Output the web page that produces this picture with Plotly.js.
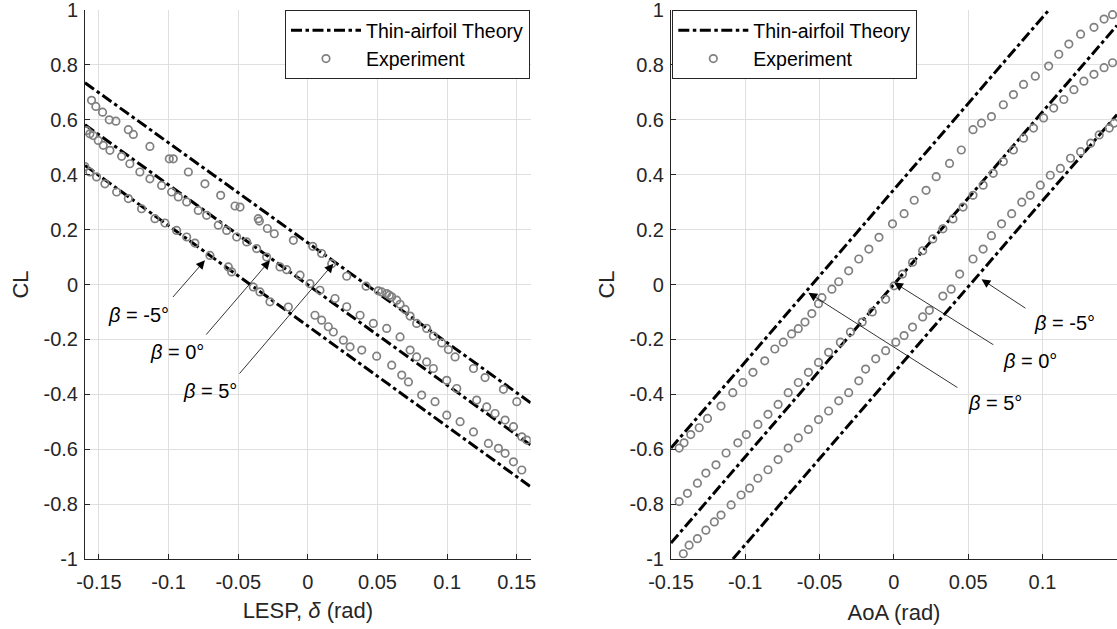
<!DOCTYPE html>
<html>
<head>
<meta charset="utf-8">
<script src="https://cdn.plot.ly/plotly-3.0.1.min.js"></script>
<style>
html,body{margin:0;padding:0;background:#fff;}
#chart{width:1117px;height:629px;}
</style>
</head>
<body>
<div id="chart"></div>
<script>
// ---------- LEFT PANEL: CL vs LESP ----------
// Thin-airfoil theory lines (endpoints)
const theoryLESP_x = [-0.16, 0.16];
const theoryLESP_beta5_y = [0.735, -0.431];
const theoryLESP_beta0_y = [0.582, -0.585];
const theoryLESP_betam5_y = [0.434, -0.737];

const lespA_x = [-0.1553,-0.1522,-0.1474,-0.1426,-0.1378,-0.1289,-0.1253,-0.1134,-0.0995,-0.0966,-0.0858,-0.0739,-0.0626,-0.0523,-0.0487,-0.0356,-0.0348,-0.0291,-0.0241,-0.0104,0.0035,0.0099,0.0171,0.0279,0.0418,0.0506,0.0530,0.0566,0.0585,0.0602,0.0638,0.0662,0.0698,0.0734,0.0781,0.0853,0.0901,0.0961,0.1009,0.1057,0.1189,0.1272,0.1404,0.1500];
const lespA_y = [0.671,0.649,0.628,0.600,0.595,0.564,0.547,0.503,0.458,0.458,0.410,0.367,0.325,0.286,0.282,0.240,0.231,0.204,0.185,0.161,0.139,0.113,0.076,0.030,-0.006,-0.023,-0.027,-0.033,-0.039,-0.045,-0.057,-0.072,-0.091,-0.115,-0.142,-0.160,-0.188,-0.213,-0.237,-0.264,-0.306,-0.339,-0.382,-0.427];

const lespB_x = [-0.1589,-0.1565,-0.1541,-0.1505,-0.1469,-0.1421,-0.1337,-0.1278,-0.1206,-0.1134,-0.1050,-0.0978,-0.0930,-0.0870,-0.0787,-0.0727,-0.0643,-0.0583,-0.0511,-0.0439,-0.0368,-0.0296,-0.0200,-0.0152,-0.0056,0.0015,0.0087,0.0195,0.0279,0.0375,0.0470,0.0566,0.0662,0.0734,0.0781,0.0853,0.0901,0.0997,0.1069,0.1212,0.1284,0.1344,0.1416,0.1476,0.1536,0.1572];
const lespB_y = [0.561,0.549,0.543,0.525,0.507,0.489,0.467,0.440,0.410,0.385,0.361,0.337,0.319,0.301,0.270,0.252,0.216,0.197,0.173,0.155,0.131,0.100,0.064,0.054,0.034,0.003,-0.021,-0.051,-0.081,-0.112,-0.142,-0.160,-0.191,-0.239,-0.264,-0.282,-0.306,-0.349,-0.379,-0.421,-0.446,-0.470,-0.494,-0.518,-0.555,-0.567];

const lespC_x = [-0.1601,-0.1565,-0.1517,-0.1457,-0.1373,-0.1289,-0.1194,-0.1098,-0.1026,-0.0942,-0.0870,-0.0811,-0.0703,-0.0571,-0.0547,-0.0392,-0.0344,-0.0272,-0.0140,0.0051,0.0099,0.0147,0.0183,0.0255,0.0303,0.0387,0.0494,0.0602,0.0674,0.0722,0.0817,0.0913,0.0997,0.1093,0.1189,0.1296,0.1368,0.1416,0.1476,0.1536];
const lespC_y = [0.430,0.410,0.392,0.367,0.337,0.313,0.276,0.240,0.224,0.197,0.173,0.151,0.106,0.064,0.046,-0.009,-0.027,-0.063,-0.082,-0.112,-0.130,-0.154,-0.173,-0.203,-0.227,-0.239,-0.261,-0.294,-0.330,-0.355,-0.403,-0.427,-0.476,-0.500,-0.537,-0.579,-0.597,-0.615,-0.646,-0.676];

// ---------- RIGHT PANEL: CL vs AoA ----------
const theoryAoA_beta5_x = [-0.15, 0.1043];
const theoryAoA_beta5_y = [-0.596, 1.0];
const theoryAoA_beta0_x = [-0.15, 0.1502];
const theoryAoA_beta0_y = [-0.942, 0.944];
const theoryAoA_betam5_x = [-0.1083, 0.1502];
const theoryAoA_betam5_y = [-1.0, 0.619];

const aoa5_x = [-0.1445,-0.1412,-0.1367,-0.1310,-0.1254,-0.1163,-0.1084,-0.1016,-0.0948,-0.0869,-0.0801,-0.0744,-0.0688,-0.0643,-0.0598,-0.0552,-0.0507,-0.0484,-0.0417,-0.0371,-0.0304,-0.0236,-0.0168,-0.0100,-0.0009,0.0069,0.0137,0.0217,0.0285,0.0375,0.0454,0.0533,0.0590,0.0657,0.0737,0.0805,0.0873,0.0952,0.1042,0.1110,0.1178,0.1257,0.1347,0.1415,0.1472];
const aoa5_y = [-0.596,-0.577,-0.547,-0.522,-0.488,-0.443,-0.394,-0.357,-0.320,-0.278,-0.235,-0.210,-0.180,-0.161,-0.137,-0.106,-0.070,-0.048,-0.017,0.010,0.050,0.093,0.129,0.172,0.221,0.258,0.307,0.343,0.393,0.441,0.490,0.564,0.588,0.612,0.655,0.692,0.729,0.759,0.796,0.839,0.876,0.912,0.937,0.967,0.983];

const aoa0_x = [-0.1445,-0.1389,-0.1322,-0.1265,-0.1197,-0.1129,-0.1050,-0.0993,-0.0915,-0.0847,-0.0779,-0.0711,-0.0643,-0.0575,-0.0507,-0.0439,-0.0360,-0.0292,-0.0213,-0.0145,-0.0055,0.0002,0.0058,0.0126,0.0194,0.0262,0.0330,0.0398,0.0466,0.0533,0.0601,0.0669,0.0737,0.0805,0.0873,0.0940,0.1008,0.1076,0.1144,0.1212,0.1279,0.1347,0.1415,0.1472];
const aoa0_y = [-0.791,-0.761,-0.724,-0.687,-0.657,-0.614,-0.577,-0.547,-0.510,-0.473,-0.437,-0.394,-0.357,-0.320,-0.284,-0.247,-0.210,-0.173,-0.137,-0.100,-0.054,-0.005,0.038,0.081,0.123,0.166,0.203,0.239,0.282,0.325,0.362,0.405,0.448,0.490,0.533,0.570,0.607,0.643,0.674,0.710,0.741,0.766,0.790,0.808];

const aoam5_x = [-0.1417,-0.1378,-0.1322,-0.1265,-0.1208,-0.1163,-0.1095,-0.1028,-0.0971,-0.0915,-0.0847,-0.0779,-0.0711,-0.0643,-0.0575,-0.0507,-0.0439,-0.0371,-0.0304,-0.0236,-0.0190,-0.0122,-0.0055,0.0013,0.0069,0.0126,0.0194,0.0239,0.0330,0.0386,0.0443,0.0533,0.0601,0.0657,0.0725,0.0793,0.0861,0.0918,0.0986,0.1053,0.1121,0.1189,0.1257,0.1325,0.1382,0.1450,0.1483];
const aoam5_y = [-0.981,-0.950,-0.926,-0.895,-0.865,-0.840,-0.803,-0.767,-0.742,-0.706,-0.675,-0.638,-0.596,-0.559,-0.528,-0.492,-0.461,-0.424,-0.394,-0.351,-0.308,-0.271,-0.241,-0.210,-0.186,-0.155,-0.118,-0.094,-0.042,-0.017,0.038,0.093,0.129,0.178,0.221,0.258,0.300,0.325,0.362,0.398,0.423,0.460,0.484,0.515,0.545,0.570,0.588];

// Tick values / labels
const xTicksLESP = [-0.15,-0.1,-0.05,0,0.05,0.1,0.15];
const xLabelsLESP = ['-0.15','-0.1','-0.05','0','0.05','0.1','0.15'];
const xTicksAoA = [-0.15,-0.1,-0.05,0,0.05,0.1];
const xLabelsAoA = ['-0.15','-0.1','-0.05','0','0.05','0.1'];
const yTicks = [-1,-0.8,-0.6,-0.4,-0.2,0,0.2,0.4,0.6,0.8,1];
const yLabels = ['-1','-0.8','-0.6','-0.4','-0.2','0','0.2','0.4','0.6','0.8','1'];

// Annotation labels and arrow anchor points
const betaLabels = ['<i>β</i> = -5°','<i>β</i> = 0°','<i>β</i> = 5°'];
const lespArrowTip_x = [-0.0739,-0.0272,0.0183];
const lespArrowTip_y = [0.088,0.088,0.076];
const lespArrowTail_x = [-0.0978,-0.0739,-0.0500];
const lespArrowTail_y = [-0.051,-0.188,-0.330];
const lespText_x = [-0.1213,-0.0940,-0.0703];
const lespText_y = [-0.112,-0.247,-0.389];
const aoaArrowTip_x = [0.0590,0.0002,-0.0575];
const aoaArrowTip_y = [0.019,0.007,-0.030];
const aoaArrowTail_x = [0.0896,0.0680,0.0438];
const aoaArrowTail_y = [-0.090,-0.223,-0.379];
const aoaText_x = [0.1151,0.0916,0.0680];
const aoaText_y = [-0.141,-0.279,-0.432];

const FONT = 'Liberation Sans, Arial, Helvetica, sans-serif';
const AX = '#262626';
const DASH = '11px,3.5px,3.5px,3.5px';
const GREY = 'rgb(128,128,128)';

function theory(x, y, xa, ya, show, leg) {
  return {x:x, y:y, xaxis:xa, yaxis:ya, type:'scatter', mode:'lines',
    name:'Thin-airfoil Theory', legend:leg, legendgroup:leg+'t', showlegend:show,
    line:{color:'#000', width:3, dash:DASH}, hoverinfo:'skip'};
}
function expt(x, y, xa, ya, show, leg) {
  return {x:x, y:y, xaxis:xa, yaxis:ya, type:'scatter', mode:'markers',
    name:'Experiment', legend:leg, legendgroup:leg+'e', showlegend:show,
    marker:{symbol:'circle-open', size:7.5, color:GREY, line:{width:1.7, color:GREY}}, cliponaxis:true};
}

const traces = [
  theory(theoryLESP_x, theoryLESP_beta5_y, 'x', 'y', true, 'legend'),
  theory(theoryLESP_x, theoryLESP_beta0_y, 'x', 'y', false, 'legend'),
  theory(theoryLESP_x, theoryLESP_betam5_y, 'x', 'y', false, 'legend'),
  expt(lespA_x, lespA_y, 'x', 'y', true, 'legend'),
  expt(lespB_x, lespB_y, 'x', 'y', false, 'legend'),
  expt(lespC_x, lespC_y, 'x', 'y', false, 'legend'),
  theory(theoryAoA_beta5_x, theoryAoA_beta5_y, 'x2', 'y2', true, 'legend2'),
  theory(theoryAoA_beta0_x, theoryAoA_beta0_y, 'x2', 'y2', false, 'legend2'),
  theory(theoryAoA_betam5_x, theoryAoA_betam5_y, 'x2', 'y2', false, 'legend2'),
  expt(aoa5_x, aoa5_y, 'x2', 'y2', true, 'legend2'),
  expt(aoa0_x, aoa0_y, 'x2', 'y2', false, 'legend2'),
  expt(aoam5_x, aoam5_y, 'x2', 'y2', false, 'legend2')
];

const axisCommon = {
  showline:true, linecolor:AX, linewidth:1, mirror:false,
  ticks:'inside', ticklen:5, tickwidth:1, tickcolor:AX,
  showgrid:true, gridcolor:'#dfdfdf', gridwidth:1, zeroline:false,
  tickfont:{family:FONT, size:20, color:AX},
  ticklabeloverflow:'allow',
  fixedrange:true
};
const xAxisExtra = {ticklabelstandoff:5};
const yAxisExtra = {ticklabelstandoff:2};

const annotations = [];
function addAnn(tx, ty, ax, ay, lx, ly, xr, yr) {
  for (let i = 0; i < betaLabels.length; i++) {
    annotations.push({xref:xr, yref:yr, axref:xr, ayref:yr,
      x:tx[i], y:ty[i], ax:ax[i], ay:ay[i], text:'', showarrow:true,
      arrowhead:2, arrowsize:2.2, arrowwidth:0.8, arrowcolor:'#000', standoff:0, startstandoff:0});
    annotations.push({xref:xr, yref:yr, x:lx[i], y:ly[i], text:betaLabels[i], showarrow:false,
      font:{family:FONT, size:20, color:'#000'}, xanchor:'center', yanchor:'middle'});
  }
}
addAnn(lespArrowTip_x, lespArrowTip_y, lespArrowTail_x, lespArrowTail_y, lespText_x, lespText_y, 'x', 'y');
addAnn(aoaArrowTip_x, aoaArrowTip_y, aoaArrowTail_x, aoaArrowTail_y, aoaText_x, aoaText_y, 'x2', 'y2');

const legendCommon = {
  bgcolor:'#fff', bordercolor:AX, borderwidth:1,
  font:{family:FONT, size:19.5, color:'#000'},
  itemwidth:70, tracegroupgap:0, yanchor:'top', y:1
};

const titleFont = {family:FONT, size:22, color:AX};
const layout = {
  width:1117, height:629,
  margin:{l:85, r:0, t:10, b:70},
  paper_bgcolor:'#fff', plot_bgcolor:'#fff',
  showlegend:true,
  font:{family:FONT, color:AX},
  xaxis:Object.assign({}, axisCommon, xAxisExtra, {domain:[0, 0.4319], range:[-0.16, 0.16], anchor:'y',
    tickvals:xTicksLESP, ticktext:xLabelsLESP,
    title:{text:'LESP, <i>δ</i> (rad)', font:titleFont, standoff:10}}),
  yaxis:Object.assign({}, axisCommon, yAxisExtra, {domain:[0,1], range:[-1.0002, 1.0002], anchor:'x',
    tickvals:yTicks, ticktext:yLabels,
    title:{text:'CL', font:titleFont, standoff:8}}),
  xaxis2:Object.assign({}, axisCommon, xAxisExtra, {domain:[0.5678, 1], range:[-0.15, 0.1502], anchor:'y2',
    tickvals:xTicksAoA, ticktext:xLabelsAoA,
    title:{text:'AoA (rad)', font:titleFont, standoff:12}}),
  yaxis2:Object.assign({}, axisCommon, yAxisExtra, {domain:[0,1], range:[-1.0002, 1.0002], anchor:'x2',
    tickvals:yTicks, ticktext:yLabels,
    title:{text:'CL', font:titleFont, standoff:8}}),
  legend:Object.assign({}, legendCommon, {x:0.4312, xanchor:'right'}),
  legend2:Object.assign({}, legendCommon, {x:0.5691, xanchor:'left'}),
  annotations:annotations
};

Plotly.newPlot('chart', traces, layout, {staticPlot:true, displayModeBar:false});
</script>
</body>
</html>
